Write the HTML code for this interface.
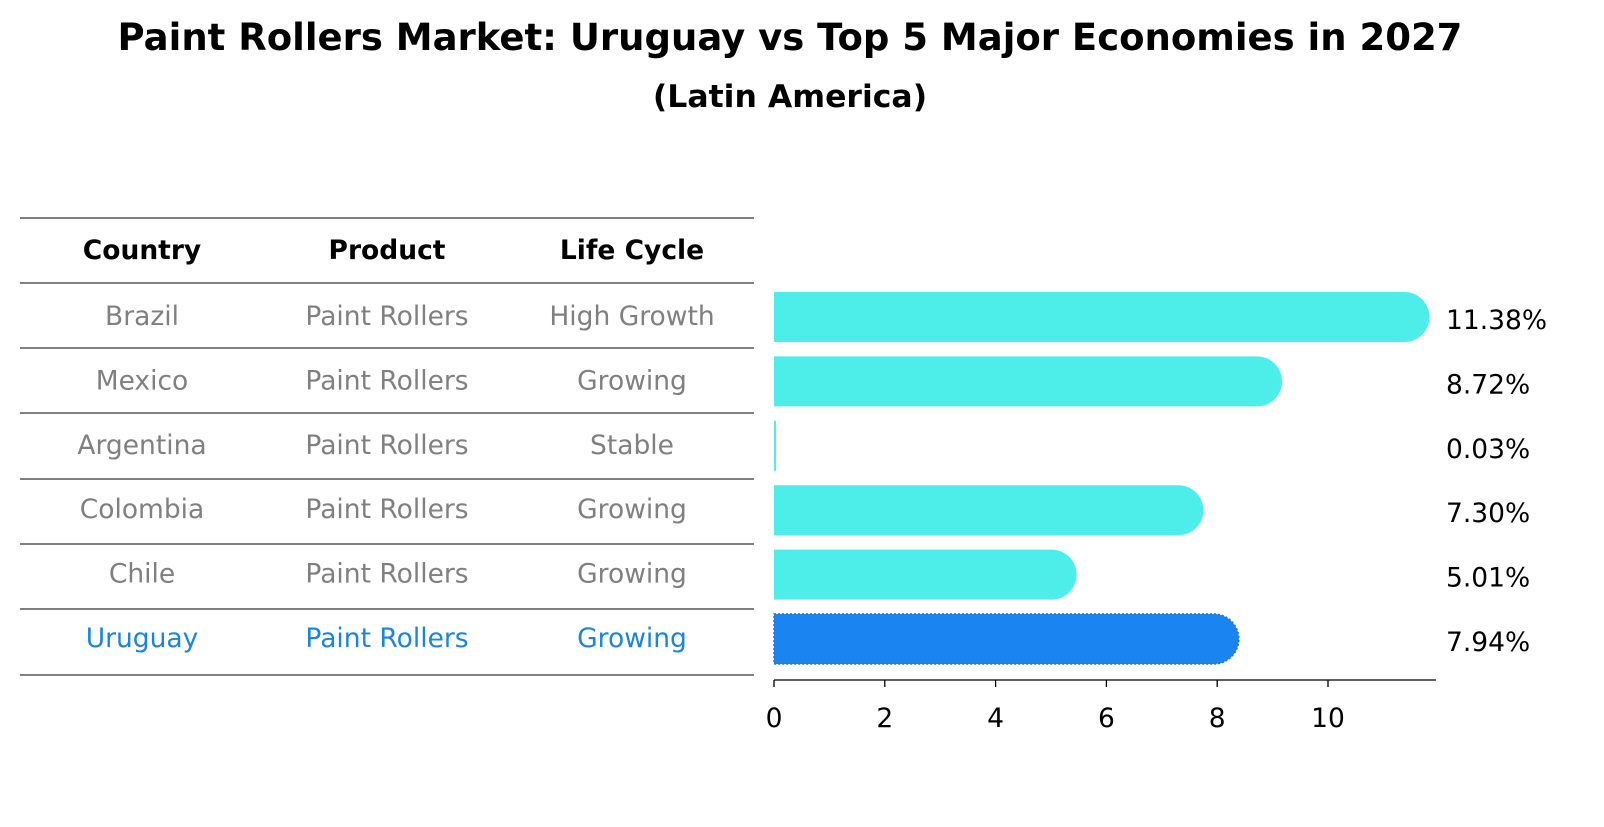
<!DOCTYPE html>
<html><head><meta charset="utf-8">
<style>
body{margin:0;background:#fff;font-family:"DejaVu Sans","Liberation Sans",sans-serif;}
</style></head>
<body>
<svg id="c" width="1604" height="823" xmlns="http://www.w3.org/2000/svg">
<text x="790" y="50" text-anchor="middle" font-size="37" font-weight="bold">Paint Rollers Market: Uruguay vs Top 5 Major Economies in 2027</text>
<text x="790" y="107" text-anchor="middle" font-size="31.5" font-weight="bold">(Latin America)</text>
<g id="table"></g>
<g id="bars"></g>
<g id="axis"></g>
</svg>
<script>
const countries=["Brazil","Mexico","Argentina","Colombia","Chile","Uruguay"];
const products=["Paint Rollers","Paint Rollers","Paint Rollers","Paint Rollers","Paint Rollers","Paint Rollers"];
const lifecycles=["High Growth","Growing","Stable","Growing","Growing","Growing"];
const values=[11.38,8.72,0.03,7.30,5.01,7.94];
const labels=["11.38%","8.72%","0.03%","7.30%","5.01%","7.94%"];
const ticks=[0,2,4,6,8,10];
const NS="http://www.w3.org/2000/svg";
function mk(t,a,p,txt){const e=document.createElementNS(NS,t);for(const k in a)e.setAttribute(k,a[k]);if(txt!==undefined)e.textContent=txt;p.appendChild(e);return e;}
const x=v=>774+v*55.4;
const rowY=i=>317+i*64.4;
const FS=26.5;
const tbl=document.getElementById('table'),bars=document.getElementById('bars'),ax=document.getElementById('axis');
const colX=[142,387,632];
const lineYs=[218,283,348,413,479,544,609,675];
lineYs.forEach((y,i)=>{const l=mk('line',{x1:20,x2:754,y1:y,y2:y,stroke:'#000','stroke-width':1},tbl);

});
["Country","Product","Life Cycle"].forEach((h,j)=>{const t=mk('text',{x:colX[j],y:259,'text-anchor':'middle','font-size':FS,'font-weight':'bold'},tbl,h);

});
countries.forEach((c,i)=>{
 const col=i===countries.length-1?'#1a85e0':'#808080';
 const y=rowY(i)+8;
 [c,products[i],lifecycles[i]].forEach((s,j)=>{const t=mk('text',{x:colX[j],y:y,'text-anchor':'middle','font-size':FS,fill:col},tbl,s);
 
 });
 const x0=x(0),x1=x(values[i]),h=50,top=rowY(i)-25;
 const w=Math.max(x1-x0,2);
 const r=w>4?25:0;
 const d=r?`M${x0},${top}H${x0+w}A25,25 0 0 1 ${x0+w},${top+h}H${x0}Z`:`M${x0},${top}h${w}v${h}h${-w}Z`;
 const isU=i===countries.length-1;
 const p=mk('path',{d:d,fill:isU?'#1a85f0':'#4deeea'},bars);
 if(isU){p.setAttribute('stroke','#2a6fd8');p.setAttribute('stroke-dasharray','2,2');p.setAttribute('stroke-width','1.5');}
 
 
 const t=mk('text',{x:1446,y:rowY(i)+12,'font-size':FS},bars,labels[i]);
 
 
});
const al=mk('line',{x1:774,x2:1436,y1:680,y2:680,stroke:'#000','stroke-width':1.3},ax);


ticks.forEach(v=>{const l=mk('line',{x1:x(v),x2:x(v),y1:680,y2:687,stroke:'#000','stroke-width':1.3},ax);


const t=mk('text',{x:x(v),y:727,'text-anchor':'middle','font-size':FS},ax,String(v));

});
</script>
</body></html>
